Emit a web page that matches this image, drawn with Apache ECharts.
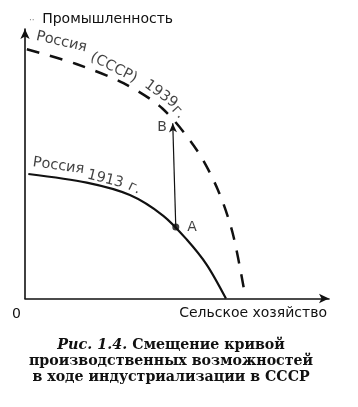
<!DOCTYPE html>
<html><head><meta charset="utf-8">
<script src="https://cdn.jsdelivr.net/npm/echarts@6/dist/echarts.min.js"></script>
<style>html,body{margin:0;padding:0;background:#fff}#c{width:358px;height:407px}</style>
</head><body><div id="c"></div>
<script>
// Production possibilities frontiers (abstract units)
const curve1913 = [[0.11,4.62],[2.03,4.30],[3.45,3.84],[4.55,3.07],[5.32,2.19],[5.98,1.25],[6.61,0]];
const curve1939 = [[0.06,9.25],[1.69,8.70],[3.24,7.99],[4.52,7.05],[5.65,5.51],[6.35,4.02],[6.83,2.43],[7.21,0.3]];
const pointA = [4.96, 2.65];
const pointB = [4.86, 6.5];
const pointNames = ['A', 'B'];
const words1939 = ['Россия', '(СССР)', '1939', 'г.'];
const anchors1939 = [[1.2,9.52],[2.92,8.56],[4.47,7.59],[5.04,6.92]];
const angles1939 = [-13, -27, -36, -48];
const words1913 = ['Россия', '1913', 'г.'];
const anchors1913 = [[1.1,4.92],[2.64,4.43],[3.6,4.10]];
const angles1913 = [-8, -14, -26];
const xName = 'Сельское хозяйство';
const yName = 'Промышленность';
const yNameDots = '··';
const captionItalic = 'Рис. 1.4.';
const captionLines = ['Смещение кривой', 'производственных возможностей', 'в ходе индустриализации в СССР'];

const ink = '#111111';
const sans = 'DejaVu Sans, Liberation Sans, sans-serif';

function wordData(words, anchors, angles) {
  return words.map((w, i) => ({
    value: anchors[i],
    label: { formatter: w, rotate: angles[i] }
  }));
}

const chart = echarts.init(document.getElementById('c'), null, { renderer: 'canvas' });
chart.setOption({
  backgroundColor: '#fff',
  animation: false,
  title: {
    text: '{i|' + captionItalic + '} {b|' + captionLines[0] + '}\n{b|' + captionLines[1] + '}\n{b|' + captionLines[2] + '}',
    left: 171, top: 337, textAlign: 'center', padding: 0,
    textStyle: {
      lineHeight: 16.3,
      rich: {
        i: { fontFamily: 'DejaVu Serif', fontStyle: 'italic', fontSize: 14.4, color: ink, lineHeight: 16.3 },
        b: { fontFamily: 'DejaVu Serif', fontWeight: 'bold', fontSize: 14.2, color: ink, lineHeight: 16.3 }
      }
    }
  },
  grid: { left: 25, right: 29, top: 29, bottom: 108.5, containLabel: false },
  xAxis: {
    type: 'value', min: 0, max: 10, interval: 10,
    name: xName, nameLocation: 'end', nameGap: -2,
    nameTextStyle: { fontFamily: sans, fontSize: 14, color: ink, align: 'right', verticalAlign: 'top', padding: [8, 0, 0, 0] },
    axisLine: { lineStyle: { color: ink, width: 1.6 }, symbol: ['none', 'arrow'], symbolSize: [7, 10] },
    axisTick: { show: false }, splitLine: { show: false },
    axisLabel: { formatter: v => (v === 0 ? '0' : ''), fontFamily: sans, fontSize: 14, color: ink, align: 'right', margin: 9, padding: [0, 4, 0, 0] }
  },
  yAxis: {
    type: 'value', min: 0, max: 10, interval: 10,
    name: '{d|' + yNameDots + '} ' + yName, nameLocation: 'end', nameGap: 3,
    nameTextStyle: { fontFamily: sans, fontSize: 14, color: ink, align: 'left', padding: [0, 0, 0, 4],
      rich: { d: { fontFamily: sans, fontSize: 9, color: '#888', padding: [3, 3, 0, 0] } } },
    axisLine: { lineStyle: { color: ink, width: 1.6 }, symbol: ['none', 'arrow'], symbolSize: [7, 10] },
    axisTick: { show: false }, splitLine: { show: false }, axisLabel: { show: false }
  },
  series: [
    {
      type: 'line', data: curve1913, smooth: 0.3, showSymbol: false, silent: true,
      lineStyle: { color: ink, width: 2.2 }
    },
    {
      type: 'line', data: curve1939, smooth: 0.3, showSymbol: false, silent: true,
      lineStyle: { color: ink, width: 2.5, type: [13, 11] }
    },
    {
      type: 'scatter', silent: true,
      data: [
        { value: pointA, symbol: 'circle', symbolSize: 7, label: { formatter: pointNames[0], position: 'right', distance: 8 } },
        { value: pointB, symbol: 'circle', symbolSize: 0, label: { formatter: pointNames[1], position: 'left', distance: 6, offset: [0, 4] } }
      ],
      itemStyle: { color: ink },
      label: { show: true, fontFamily: sans, fontSize: 14, color: ink },
      markLine: {
        silent: true, symbol: ['none', 'arrow'], symbolSize: [6, 9],
        lineStyle: { color: ink, width: 1.2, type: 'solid' }, label: { show: false },
        data: [[{ coord: pointA }, { coord: pointB }]]
      }
    },
    {
      type: 'scatter', silent: true, symbolSize: 0,
      data: wordData(words1939, anchors1939, angles1939).concat(wordData(words1913, anchors1913, angles1913)),
      label: { show: true, position: 'inside', fontFamily: sans, fontSize: 14.5, color: ink }
    }
  ]
});
</script></body></html>
